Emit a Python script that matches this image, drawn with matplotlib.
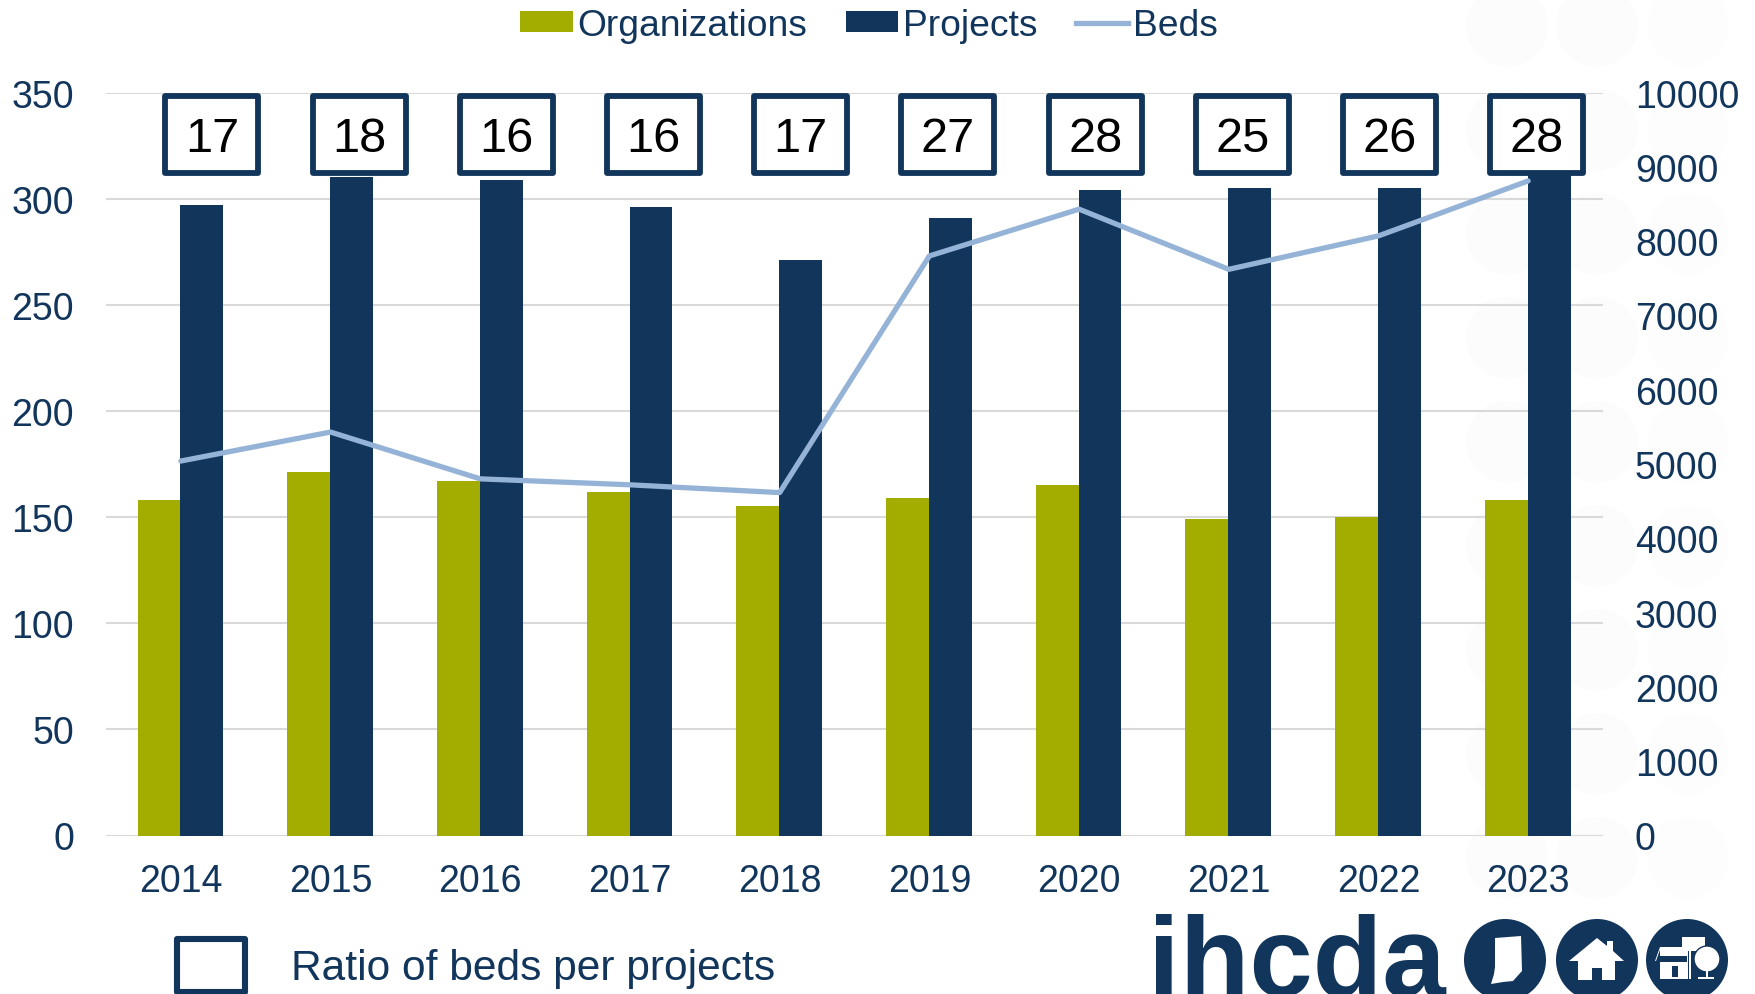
import numpy as np
import matplotlib
matplotlib.use("Agg")
import matplotlib.pyplot as plt
from matplotlib.patches import Circle, Polygon, Rectangle
from matplotlib.lines import Line2D

years = ["2014", "2015", "2016", "2017", "2018", "2019", "2020", "2021", "2022", "2023"]
organizations = [158, 171, 167, 162, 155, 159, 165, 149, 150, 158]
projects = [297, 310, 309, 296, 271, 291, 304, 305, 305, 314]
beds = [5040, 5430, 4800, 4720, 4615, 7800, 8430, 7620, 8070, 8810]
ratios = [17, 18, 16, 16, 17, 27, 28, 25, 26, 28]
left_ticks = [0, 50, 100, 150, 200, 250, 300, 350]
right_ticks = [0, 1000, 2000, 3000, 4000, 5000, 6000, 7000, 8000, 9000, 10000]

NAVY = "#12355B"
OLIVE = "#A2AD00"
LINE = "#95B3D7"
GRID = "#D9D9D9"
W, H = 1756, 995

plt.rcParams["font.family"] = ["Liberation Sans", "DejaVu Sans"]

fig = plt.figure(figsize=(W / 100, H / 100), dpi=100)

# faint circles behind everything
bg = fig.add_axes([0, 0, 1, 1], zorder=-1)
bg.set_xlim(0, W)
bg.set_ylim(H, 0)
bg.axis("off")
for row in range(9):
    for cx, col in [(1507, "#FCFCFC"), (1597, "#FCFCFC"), (1688, "#FDFDFD")]:
        bg.add_patch(Circle((cx, 27 + row * 104), 41, fc=col, ec="none"))

ax = fig.add_axes([106 / W, 1 - 836.5 / H, (1603 - 106) / W, (836.5 - 93.5) / H], zorder=1)
ax.patch.set_alpha(0)
x = np.arange(len(years))
bw = 0.286
ax.bar(x - 0.003 - bw / 2, organizations, bw, color=OLIVE, zorder=2)
ax.bar(x - 0.003 + bw / 2, projects, bw, color=NAVY, zorder=2)
ax.set_xlim(-0.5, 9.5)
ax.set_ylim(0, 350)
ax.set_yticks(left_ticks)
ax.set_xticks(x, years)
ax.grid(axis="y", color=GRID, lw=1.5, zorder=0)
ax.set_axisbelow(True)
ax.tick_params(axis="y", length=0, pad=23, labelsize=27, labelcolor=NAVY)
ax.tick_params(axis="x", length=0, pad=20, labelsize=27, labelcolor=NAVY)
for s in ax.spines.values():
    s.set_visible(False)

ax2 = ax.twinx()
ax2.plot(x, beds, color=LINE, lw=3.8, solid_capstyle="round", solid_joinstyle="round")
ax2.set_ylim(0, 10000)
ax2.set_yticks(right_ticks)
ax2.tick_params(axis="y", length=0, pad=23, labelsize=27, labelcolor=NAVY)
for s in ax2.spines.values():
    s.set_visible(False)

# overlay in pixel coordinates: ratio boxes, key, logo
ov = fig.add_axes([0, 0, 1, 1], zorder=3)
ov.set_xlim(0, W)
ov.set_ylim(H, 0)
ov.axis("off")
for i, r in enumerate(ratios):
    cx = 212 + i * 147.2
    ov.add_patch(Rectangle((cx - 46.5, 97), 93, 77, fc="white", ec=NAVY, lw=4.2, joinstyle="round"))
    ov.text(cx, 140, str(r), ha="center", va="center", fontsize=35, color="black")

ov.add_patch(Rectangle((177, 940), 68, 53, fc="white", ec=NAVY, lw=4.4, joinstyle="round"))
ov.text(291, 969, "Ratio of beds per projects", ha="left", va="center", fontsize=30.6, color=NAVY)

# logo
ov.text(1148, 996, "ihcda", ha="left", va="baseline", fontsize=82, fontweight="bold", color=NAVY)
for cx in [1505, 1597, 1687]:
    ov.add_patch(Circle((cx, 961), 41, fc=NAVY, ec="none"))
ov.add_patch(Polygon([(1495, 939), (1521, 937), (1522, 972), (1513, 982), (1503, 983),
                      (1491, 985), (1494, 975), (1495, 968)], fc="white", ec="none"))
ov.add_patch(Polygon([(1569, 962), (1597, 939), (1607, 947), (1607, 942), (1613, 942), (1613, 952),
                      (1624, 962), (1615, 962), (1615, 981), (1602, 981), (1602, 969), (1592, 969),
                      (1592, 981), (1578, 981), (1578, 962)], fc="white", ec="none"))
# building and tree icon
ov.add_patch(Rectangle((1682, 938), 23, 14, fc="white", ec="none"))
ov.add_patch(Rectangle((1660, 948), 28, 32, fc="white", ec="none"))
ov.add_patch(Rectangle((1660, 957), 27, 6, fc=NAVY, ec="none"))
ov.add_patch(Rectangle((1672, 967), 6, 11, fc=NAVY, ec="none"))
ov.add_patch(Rectangle((1689.5, 948), 1.5, 32, fc="white", ec="none"))
ov.add_patch(Polygon([(1655, 962), (1660, 948), (1661, 948), (1656, 962)], fc="white", ec="none"))
ov.add_patch(Circle((1707, 960), 13, fc="white", ec=NAVY, lw=1))
ov.add_patch(Rectangle((1706, 970), 2.5, 10, fc="white", ec="none"))
ov.add_patch(Rectangle((1698, 978), 16, 2, fc="white", ec="none"))

handles = [
    Rectangle((0, 0), 1, 1, fc=OLIVE),
    Rectangle((0, 0), 1, 1, fc=NAVY),
    Line2D([0], [0], color=LINE, lw=3.8),
]
fig.legend(handles, ["Organizations", "Projects", "Beds"], ncol=3, frameon=False,
           loc="center", bbox_to_anchor=(869 / W, 1 - 26 / H), fontsize=26.8,
           labelcolor=NAVY, handlelength=1.4, handleheight=0.5, handletextpad=0.12,
           columnspacing=1.05, borderpad=0, borderaxespad=0)

fig.savefig("out.png", dpi=100)
